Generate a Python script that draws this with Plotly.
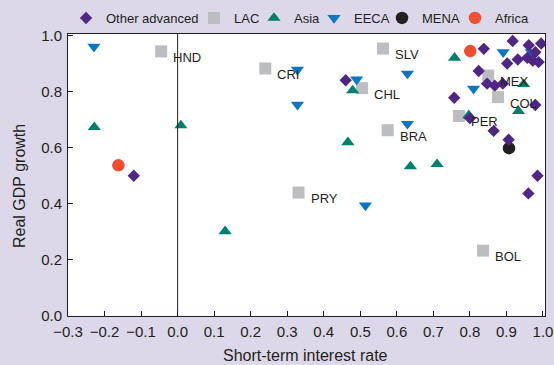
import plotly.graph_objects as go

# ---- data ----
other_x = [-0.12, 0.46, 0.917, 0.838, 0.961, 0.995, 0.979, 0.902, 0.931, 0.957, 0.988, 0.972,
           0.824, 0.847, 0.868, 0.89, 0.757, 0.979, 0.80, 0.865, 0.906, 0.985, 0.96]
other_y = [0.50, 0.84, 0.98, 0.952, 0.965, 0.971, 0.94, 0.90, 0.914, 0.92, 0.905, 0.91,
           0.873, 0.828, 0.821, 0.828, 0.778, 0.752, 0.705, 0.66, 0.628, 0.50, 0.437]

lac_labels = ["HND", "CRI", "SLV", "CHL", "BRA", "PRY", "BOL", "MEX", "COL", "PER"]
lac_x = [-0.045, 0.24, 0.562, 0.505, 0.575, 0.331, 0.836, 0.85, 0.877, 0.77]
lac_y = [0.943, 0.882, 0.953, 0.812, 0.662, 0.44, 0.233, 0.857, 0.78, 0.713]

asia_x = [-0.228, 0.009, 0.13, 0.466, 0.479, 0.637, 0.71, 0.758, 0.797, 0.947, 0.933]
asia_y = [0.673, 0.679, 0.302, 0.619, 0.804, 0.533, 0.541, 0.92, 0.715, 0.826, 0.73]

eeca_x = [-0.229, 0.328, 0.328, 0.49, 0.514, 0.629, 0.629, 0.81, 0.891, 0.968]
eeca_y = [0.96, 0.878, 0.753, 0.843, 0.394, 0.864, 0.685, 0.81, 0.94, 0.94]

mena_x = [0.907]
mena_y = [0.598]

africa_x = [-0.162, 0.801]
africa_y = [0.537, 0.944]

x_ticks = [-0.3, -0.2, -0.1, 0.0, 0.1, 0.2, 0.3, 0.4, 0.5, 0.6, 0.7, 0.8, 0.9, 1.0]
y_ticks = [0.0, 0.2, 0.4, 0.6, 0.8, 1.0]

x_title = "Short-term interest rate"
y_title = "Real GDP growth"

# ---- styles ----
PURPLE = "#4F2683"
GREY = "#BCBDC0"
TEAL = "#00806A"
BLUE = "#0A77C4"
BLACK = "#231F20"
RED = "#F04E30"
BG = "#DDD8E9"
INK = "#231F20"
FONT = "Liberation Sans, Arial, sans-serif"
W, H = 554, 365
ML, MR, MT, MB = 68, 9, 34, 49
PW, PH = W - ML - MR, H - MT - MB

fig = go.Figure()

fig.add_trace(go.Scatter(x=lac_x, y=lac_y, mode="markers", name="LAC", legend="legend2",
                         marker=dict(symbol="square", size=12, color=GREY, line=dict(width=0))))
fig.add_trace(go.Scatter(x=asia_x, y=asia_y, mode="markers", name="Asia", legend="legend3",
                         marker=dict(symbol="triangle-up", size=11.5, color=TEAL, line=dict(width=0))))
fig.add_trace(go.Scatter(x=eeca_x, y=eeca_y, mode="markers", name="EECA", legend="legend4",
                         marker=dict(symbol="triangle-down", size=11.5, color=BLUE, line=dict(width=0))))
fig.add_trace(go.Scatter(x=mena_x, y=mena_y, mode="markers", name="MENA", legend="legend5",
                         marker=dict(symbol="circle", size=12.5, color=BLACK, line=dict(width=0))))
fig.add_trace(go.Scatter(x=africa_x, y=africa_y, mode="markers", name="Africa", legend="legend6",
                         marker=dict(symbol="circle", size=12.5, color=RED, line=dict(width=0))))
fig.add_trace(go.Scatter(x=other_x, y=other_y, mode="markers", name="Other advanced", legend="legend",
                         marker=dict(symbol="diamond", size=9.5, color=PURPLE, line=dict(width=0))))

for lab, xv, yv in zip(lac_labels, lac_x, lac_y):
    fig.add_annotation(x=xv, y=yv, text=lab, showarrow=False, xanchor="left", yanchor="middle",
                       xshift=10, yshift=-6, font=dict(family=FONT, size=13, color=INK))

# vertical reference line at zero
fig.add_shape(type="line", xref="x", yref="paper", x0=0, x1=0, y0=0, y1=1,
              line=dict(color=INK, width=1))

# axis titles (y title sits slightly below the plot's centre in the original)
fig.add_annotation(xref="paper", yref="paper", x=(19 - ML) / PW, y=(H - MB - 186) / PH,
                   text=y_title, textangle=-90, showarrow=False, xanchor="center", yanchor="middle",
                   font=dict(family=FONT, size=16, color=INK))
fig.add_annotation(xref="paper", yref="paper", x=0.497, y=-(355 - (H - MB)) / PH,
                   text=x_title, showarrow=False, xanchor="center", yanchor="middle",
                   font=dict(family=FONT, size=16, color=INK))

axis_common = dict(showline=True, linecolor=INK, linewidth=1, mirror=True,
                   ticks="inside", ticklen=5, tickcolor=INK, tickwidth=1,
                   showgrid=False, zeroline=False, automargin=False,
                   tickfont=dict(family=FONT, size=15, color=INK))

fig.update_xaxes(range=[-0.3, 1.0055], tickvals=x_ticks, tickformat=".1f",
                 ticklabelstandoff=2, **axis_common)
fig.update_yaxes(range=[0, 1.005], tickvals=y_ticks, tickformat=".1f",
                 ticklabelstandoff=2, **axis_common)

# one legend per group, placed along the top strip (pixel positions of each entry's left edge)
legend_left_px = {"legend": 66, "legend2": 194, "legend3": 254, "legend4": 314,
                  "legend5": 382, "legend6": 455}
legend_center_y_px = 18
legend_layouts = {}
for key, px in legend_left_px.items():
    legend_layouts[key] = dict(orientation="h", xref="paper", yref="paper",
                               x=(px - ML) / PW, xanchor="left",
                               y=1 + (MT - legend_center_y_px) / PH, yanchor="middle",
                               bgcolor="rgba(0,0,0,0)", borderwidth=0,
                               font=dict(family=FONT, size=13, color=INK), itemwidth=30)

fig.update_layout(
    width=W, height=H,
    margin=dict(l=ML, r=MR, t=MT, b=MB, autoexpand=False),
    paper_bgcolor=BG, plot_bgcolor="white",
    font=dict(family=FONT, size=13, color=INK),
    showlegend=True,
    **legend_layouts,
)

fig.write_html("out.html", config={"displayModeBar": False},
               post_script="document.body.style.margin='0px';")
